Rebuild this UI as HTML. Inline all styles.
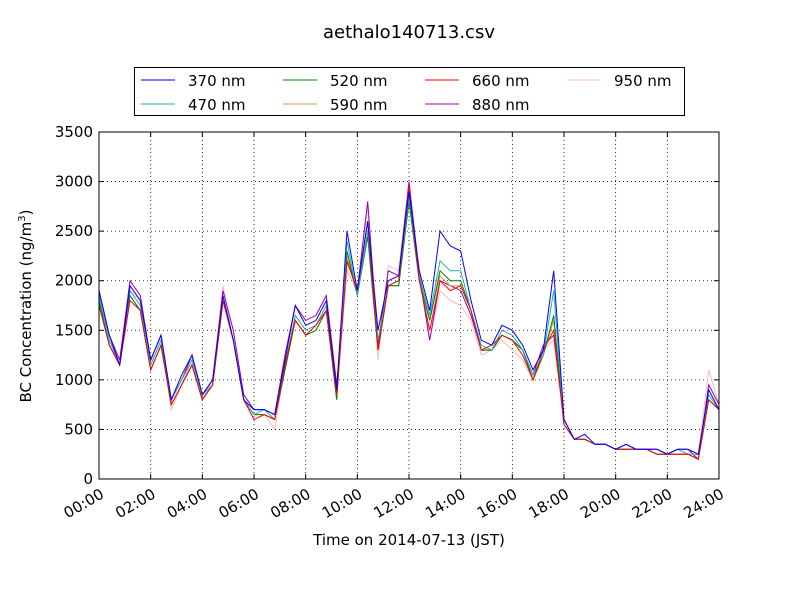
<!DOCTYPE html>
<html><head><meta charset="utf-8"><style>
body{margin:0;background:#fff;font-family:"Liberation Sans","DejaVu Sans",sans-serif}
svg text{font-family:"DejaVu Sans","Liberation Sans",sans-serif}
</style></head><body>
<svg id="chart" width="800" height="600" xmlns="http://www.w3.org/2000/svg">
<rect width="800" height="600" fill="#fff"/>
<text x="409" y="38" font-size="18" text-anchor="middle">aethalo140713.csv</text>
<g id="grid"></g><g id="series"></g><g id="axes"></g>
<text x="409" y="545" font-size="15" text-anchor="middle">Time on 2014-07-13 (JST)</text>
<text transform="translate(31,306) rotate(-90)" font-size="15" text-anchor="middle">BC Concentration (ng/m<tspan dy="-6" font-size="10">3</tspan><tspan dy="6">)</tspan></text>
<g id="legend"></g>
</svg>
<script>
const times=[];for(let i=0;i<=60;i++)times.push(i*0.4);
const s370=[1900,1450,1150,1950,1800,1200,1450,800,1050,1250,850,1000,1850,1400,800,700,700,650,1200,1750,1550,1600,1800,900,2500,1900,2600,1500,2000,2050,2900,2100,1700,2500,2350,2300,1800,1400,1350,1550,1500,1350,1100,1300,2100,600,400,450,350,350,300,350,300,300,300,250,300,300,250,900,700];
const s470=[1850,1400,1150,1900,1750,1150,1400,800,1000,1200,850,950,1800,1400,800,650,700,600,1150,1650,1500,1550,1750,850,2400,1850,2500,1400,1950,2000,2850,2050,1650,2200,2100,2100,1700,1350,1300,1500,1450,1300,1050,1250,1900,550,400,400,350,350,300,300,300,300,250,250,300,250,250,850,700];
const s520=[1800,1350,1150,1850,1700,1100,1350,750,950,1150,800,950,1800,1400,800,650,650,600,1100,1600,1450,1500,1700,800,2300,1850,2450,1300,1950,1950,2800,2000,1600,2100,2000,2000,1700,1300,1300,1450,1400,1300,1000,1250,1650,550,400,400,350,350,300,300,300,300,250,250,250,250,200,800,700];
const s590=[1800,1350,1150,1850,1700,1100,1350,750,950,1150,800,950,1800,1400,800,650,650,600,1100,1600,1450,1500,1700,800,2250,1850,2450,1300,1950,1950,2800,2000,1600,2050,1950,1950,1700,1300,1300,1450,1400,1300,1000,1250,1600,550,400,400,350,350,300,300,300,300,250,250,250,250,200,800,700];
const s660=[1750,1350,1150,1800,1700,1100,1350,750,950,1150,800,950,1800,1400,800,600,650,600,1150,1600,1450,1550,1700,850,2200,1900,2600,1300,1950,2000,2950,2000,1500,2000,1900,1950,1700,1300,1350,1450,1400,1250,1000,1300,1500,550,400,400,350,350,300,300,300,300,250,250,250,250,200,800,700];
const s880=[1900,1450,1200,2000,1850,1200,1450,800,1000,1250,850,1000,1900,1500,850,700,700,650,1250,1750,1600,1650,1850,950,2200,1900,2800,1350,2100,2050,3000,2050,1400,2000,1950,1900,1650,1300,1300,1450,1400,1300,1050,1350,1450,600,400,400,350,350,300,350,300,300,300,250,300,300,200,950,750];
const s950=[1850,1400,1200,1900,1800,1150,1400,700,950,1200,800,1000,1950,1400,800,600,650,500,1150,1650,1500,1550,1750,850,2100,1900,2750,1200,2150,2100,3000,2100,1400,1900,1800,1750,1600,1250,1300,1400,1300,1200,1000,1300,1400,550,400,400,350,350,300,350,300,300,300,250,300,300,250,1100,750];
const seriesNames=["370 nm","470 nm","520 nm","590 nm","660 nm","880 nm","950 nm"];
const seriesData=[s370,s470,s520,s590,s660,s880,s950];
const colors=["#0000ff","#20b2aa","#008000","#c8a040","#ff0000","#9900aa","#ffb6c1"];
const drawOrder=[6,5,3,2,1,4,0];
const xTicks=[0,2,4,6,8,10,12,14,16,18,20,22,24];
const yTicks=[0,500,1000,1500,2000,2500,3000,3500];
const X0=99,X1=719,Y0=479,Y1=132;
const xs=h=>X0+(X1-X0)*h/24, ys=v=>Y0-(Y0-Y1)*v/3500;
const NS="http://www.w3.org/2000/svg";
function mk(t,a,p){const e=document.createElementNS(NS,t);for(const k in a)e.setAttribute(k,a[k]);p.appendChild(e);return e;}
const grid=document.getElementById('grid'),axes=document.getElementById('axes'),ser=document.getElementById('series'),leg=document.getElementById('legend');
xTicks.forEach(t=>{const x=xs(t);
 const g=mk('line',{x1:x,x2:x,y1:Y1,y2:Y0,stroke:'#000','stroke-dasharray':'1,3','stroke-width':0.8},grid);
 
 
 mk('line',{x1:x,x2:x,y1:Y0,y2:Y0-5,stroke:'#000'},axes);
 mk('line',{x1:x,x2:x,y1:Y1,y2:Y1+5,stroke:'#000'},axes);
 const lb=mk('text',{x:x+6,y:Y0+18,'font-size':15,'text-anchor':'end',transform:`rotate(-30 ${x+6} ${Y0+18})`},axes);
 lb.textContent=String(t).padStart(2,'0')+':00';
 
 
});
yTicks.forEach(t=>{const y=ys(t);
 const g=mk('line',{x1:X0,x2:X1,y1:y,y2:y,stroke:'#000','stroke-dasharray':'1,3','stroke-width':0.8},grid);
 
 
 mk('line',{x1:X0,x2:X0+5,y1:y,y2:y,stroke:'#000'},axes);
 mk('line',{x1:X1,x2:X1-5,y1:y,y2:y,stroke:'#000'},axes);
 const lb=mk('text',{x:X0-6,y:y+5,'font-size':15,'text-anchor':'end'},axes);
 lb.textContent=t;
 
 
});
drawOrder.forEach(i=>{
 const pts=seriesData[i].map((v,j)=>xs(times[j]).toFixed(1)+','+ys(v).toFixed(1)).join(' ');
 const pl=mk('polyline',{points:pts,fill:'none',stroke:colors[i],'stroke-width':1},ser);
 
 
});
mk('rect',{x:X0,y:Y1,width:X1-X0,height:Y0-Y1,fill:'none',stroke:'#000'},axes);
mk('rect',{x:134.5,y:67.5,width:550,height:48,fill:'#fff',stroke:'#000'},leg);
seriesNames.forEach((n,i)=>{const col=Math.floor(i/2),row=i%2;
 const lx=141+col*142,ly=80+row*24;
 mk('line',{x1:lx,x2:lx+34,y1:ly,y2:ly,stroke:colors[i]},leg);
 const t=mk('text',{x:lx+47,y:ly+6,'font-size':15},leg);t.textContent=n;
 
 
});
</script>
</body></html>
